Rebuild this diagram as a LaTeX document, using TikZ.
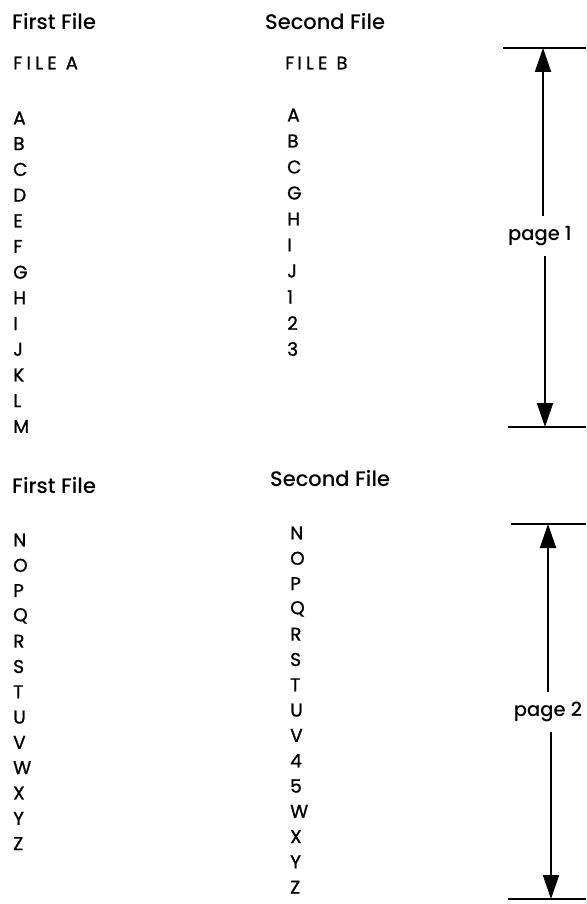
\documentclass[tikz,border=0pt]{standalone}
\usepackage{fontspec}
\setmainfont{Poppins}
\newfontfamily\listfont{Poppins}[FakeBold=1]
\newfontfamily\headfont{Poppins Medium}
\usetikzlibrary{arrows.meta}
\begin{document}
\begin{tikzpicture}[x=1pt,y=-1pt,
  heading/.style={font=\fontsize{21}{25}\selectfont\headfont, anchor=west, inner sep=0pt},
  filename/.style={font=\fontsize{18}{22}\selectfont\listfont\addfontfeature{LetterSpace=24}, anchor=west, inner sep=0pt},
  item/.style={font=\fontsize{18.5}{22}\selectfont\listfont, anchor=west, inner sep=0pt},
  pagelabel/.style={font=\fontsize{19.5}{23}\selectfont\headfont, inner xsep=0pt, inner ysep=10pt},
  rule/.style={line width=2.4pt},
  dim/.style={line width=2pt, -{Triangle[width=16pt,length=24pt]}}]
\useasboundingbox (0,0) rectangle (586,904);

% ---------- upper half ----------
\node[heading] (h1a) at (12,22) {First File};
\node[heading] (h1b) at (265,22) {Second File};
\node[filename] (fa) at (13,63) {FILE A};
\node[filename] (fb) at (285,63) {F\,ILE B};

\foreach \t [count=\i] in {A,B,C,D,E,F,G,H,I,J,K,L,M}
  \node[item] (a\i) at (13,{118+25.7*(\i-1)}) {\t};
\foreach \t [count=\i] in {A,B,C,G,H,I,J,1,2,3}
  \node[item] (b\i) at (287,{115+26*(\i-1)}) {\t};

\coordinate (t1l) at (503,48);
\coordinate (t1r) at (586,48);
\coordinate (t1m) at (543,48);
\coordinate (u1l) at (508,427);
\coordinate (u1r) at (586,427);
\coordinate (u1m) at (545,427);
\draw[rule] (t1l) -- (t1r);
\draw[rule] (u1l) -- (u1r);
\node[pagelabel] (p1) at (540,236) {page 1};
\draw[dim] (p1.north -| t1m) -- (t1m);
\draw[dim] (p1.south -| u1m) -- (u1m);

% ---------- lower half ----------
\node[heading] (h2a) at (12,486) {First File};
\node[heading] (h2b) at (270,479) {Second File};

\foreach \t [count=\i] in {N,O,P,Q,R,S,T,U,V,W,X,Y,Z}
  \node[item] (c\i) at (13,{540+25.3*(\i-1)}) {\t};
\foreach \t [count=\i] in {N,O,P,Q,R,S,T,U,V,4,5,W,X,Y,Z}
  \node[item] (d\i) at (290,{533+25.3*(\i-1)}) {\t};

\coordinate (t2l) at (511,524);
\coordinate (t2r) at (586,524);
\coordinate (t2m) at (548,524);
\coordinate (u2l) at (508,899);
\coordinate (u2r) at (586,899);
\coordinate (u2m) at (551,899);
\draw[rule] (t2l) -- (t2r);
\draw[rule] (u2l) -- (u2r);
\node[pagelabel] (p2) at (548,712) {page 2};
\draw[dim] (p2.north -| t2m) -- (t2m);
\draw[dim] (p2.south -| u2m) -- (u2m);
\end{tikzpicture}
\end{document}
